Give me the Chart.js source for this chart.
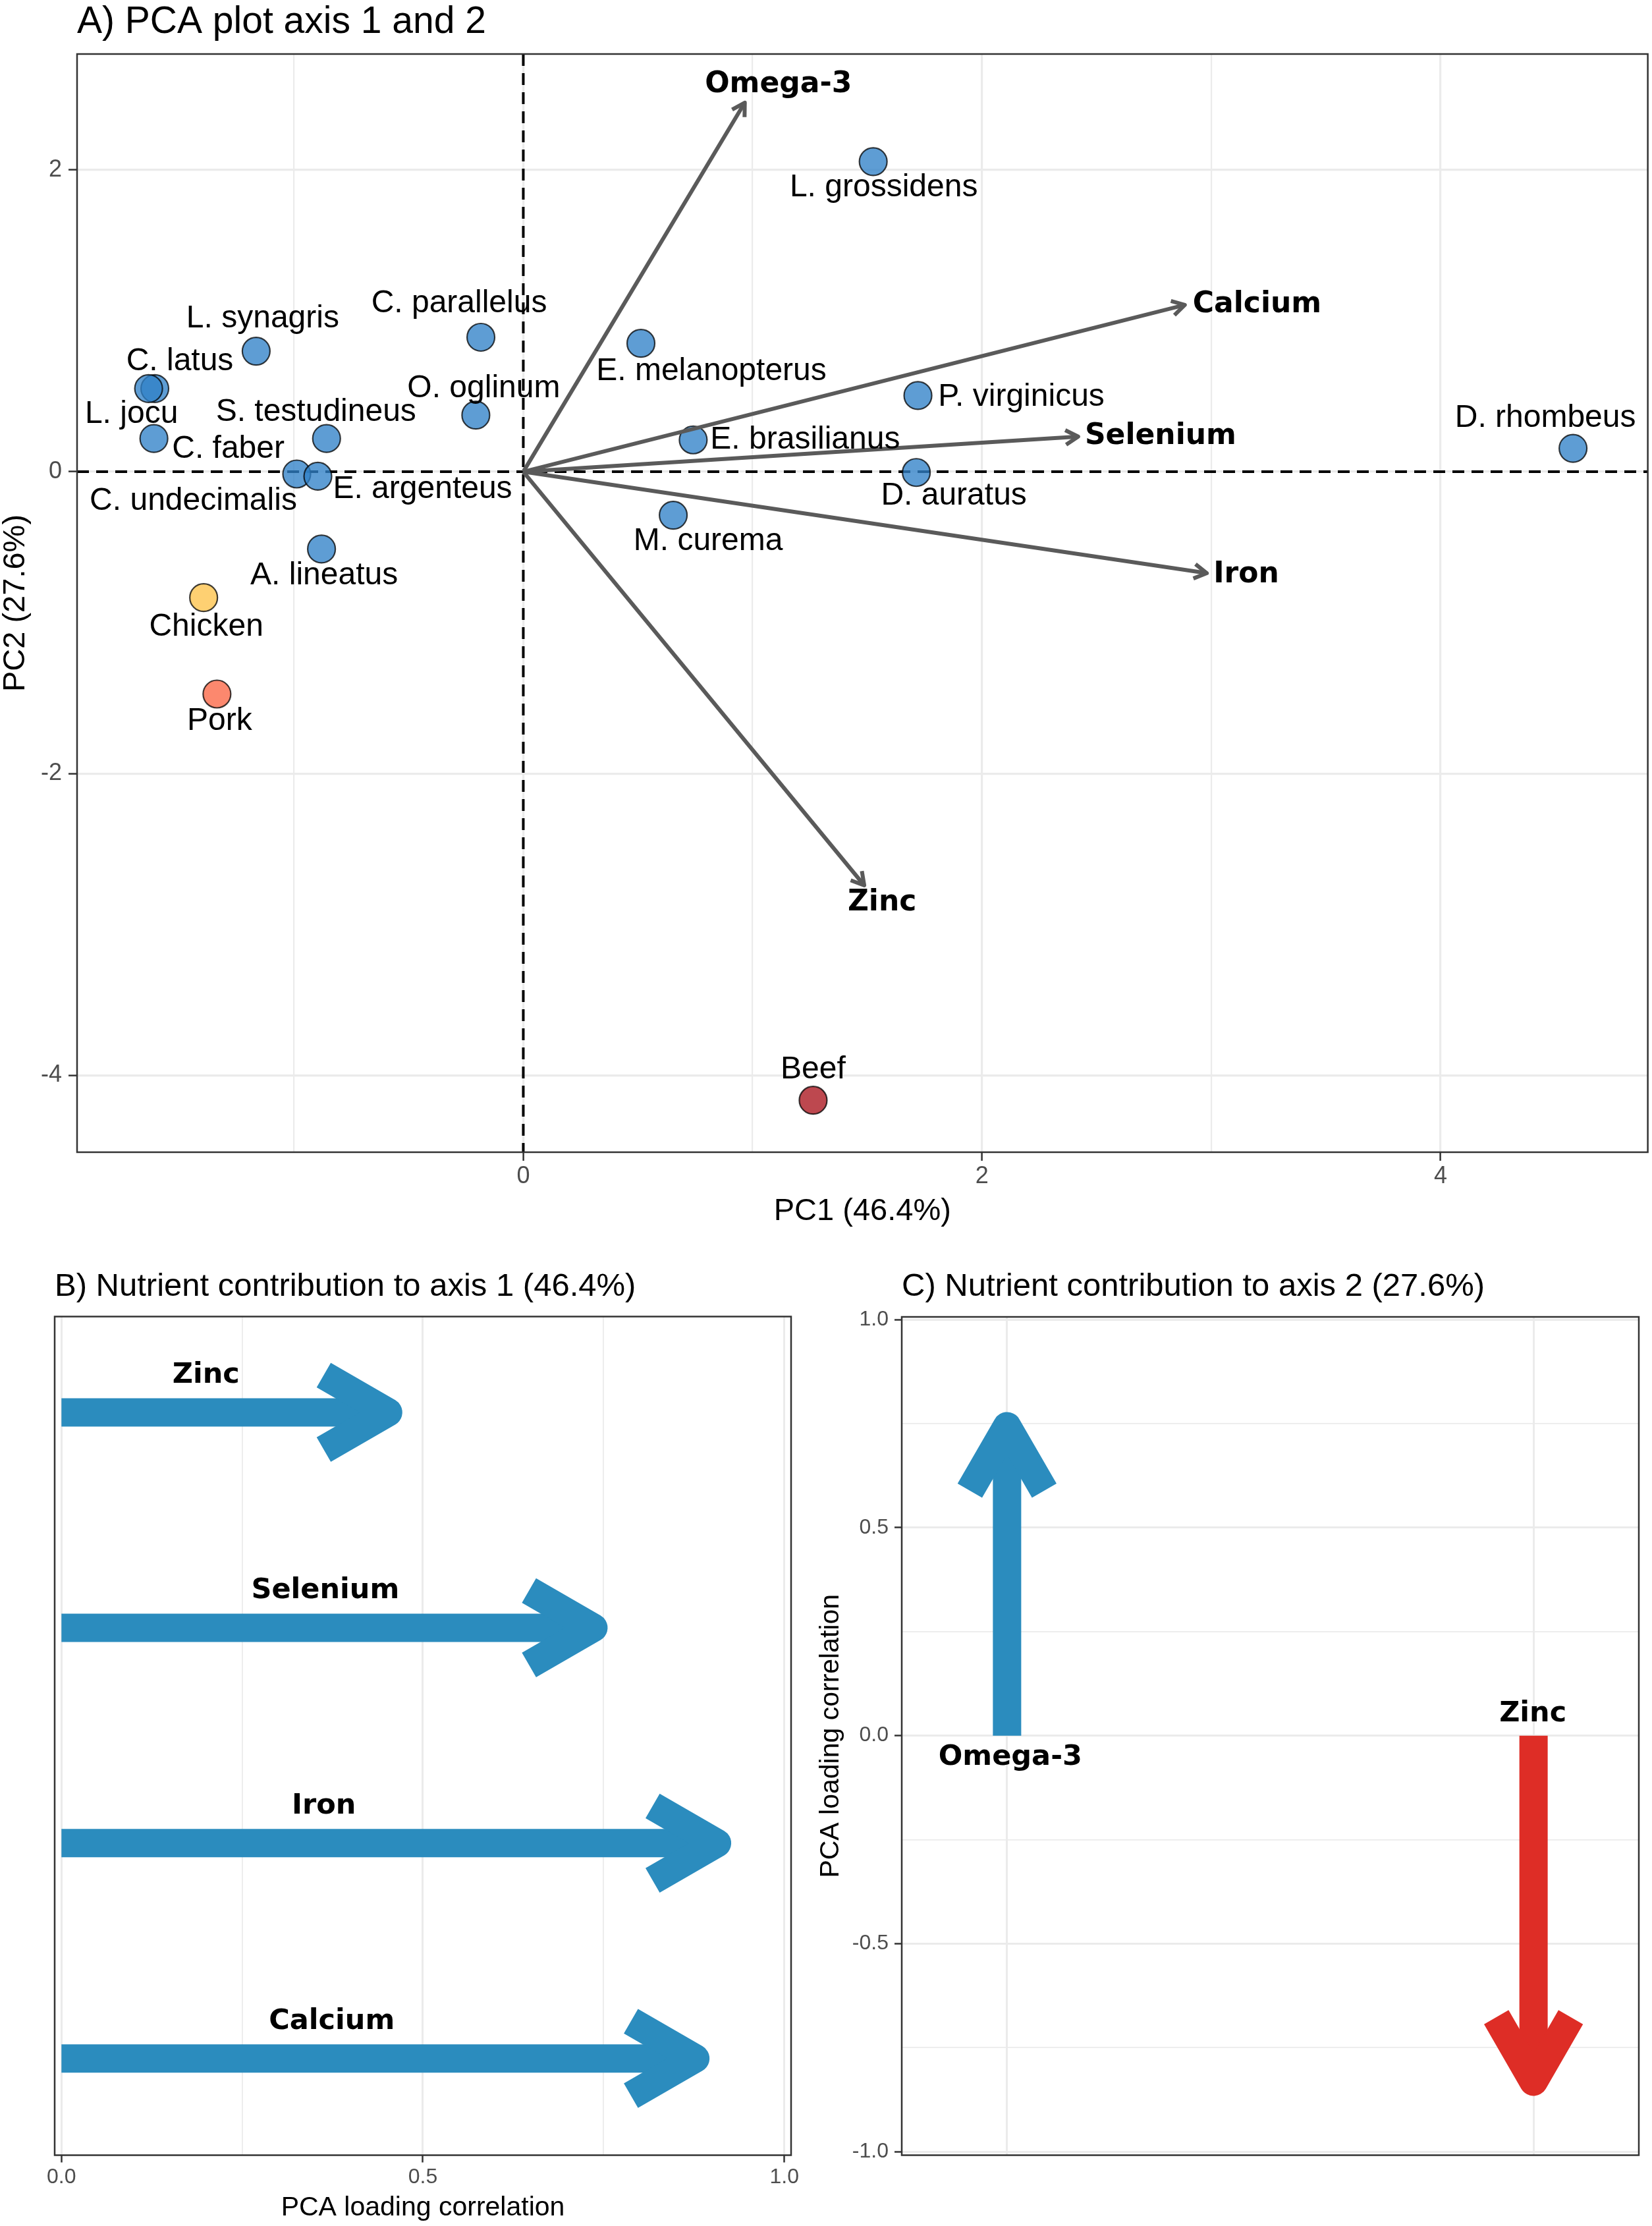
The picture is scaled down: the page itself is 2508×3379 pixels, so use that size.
<!DOCTYPE html>
<html>
<head>
<meta charset="utf-8">
<script src="https://cdn.jsdelivr.net/npm/chart.js@4.4.1/dist/chart.umd.min.js"></script>
<style>
html,body{margin:0;padding:0;background:#ffffff;}
body{width:2508px;height:3379px;position:relative;overflow:hidden;}
canvas{position:absolute;}
</style>
</head>
<body>
<canvas id="pca" width="2508" height="1880" style="left:0px;top:0px;width:2508px;height:1880px"></canvas>
<canvas id="axis1" width="1254" height="1499" style="left:0px;top:1880px;width:1254px;height:1499px"></canvas>
<canvas id="axis2" width="1308" height="1499" style="left:1200px;top:1880px;width:1308px;height:1499px"></canvas>
<script>
// ================= DATA =================
// Panel A: species scores
const speciesNames = ['L. grossidens','C. parallelus','L. synagris','C. latus','L. jocu','C. faber',
  'S. testudineus','O. oglinum','E. melanopterus','E. brasilianus','C. undecimalis','E. argenteus',
  'M. curema','A. lineatus','P. virginicus','D. auratus','D. rhombeus','Chicken','Pork','Beef'];
const speciesPC1 = [1.526,-0.185,-1.165,-1.607,-1.634,-1.611,-0.858,-0.207,0.513,0.741,-0.988,-0.896,
  0.654,-0.880,1.721,1.714,4.578,-1.394,-1.336,1.264];
const speciesPC2 = [2.055,0.891,0.799,0.551,0.551,0.220,0.220,0.375,0.851,0.211,-0.015,-0.030,
  -0.288,-0.512,0.505,-0.005,0.155,-0.834,-1.473,-4.165];
const speciesGroup = ['fish','fish','fish','fish','fish','fish','fish','fish','fish','fish','fish','fish',
  'fish','fish','fish','fish','fish','chicken','pork','beef'];

// Panel A: nutrient loading vectors
const nutrientNames = ['Omega-3','Calcium','Selenium','Iron','Zinc'];
const nutrientPC1 = [0.966, 2.885, 2.420, 2.981, 1.487];
const nutrientPC2 = [2.446, 1.105, 0.233, -0.672, -2.741];

const pcaXTicks = [-1,0,1,2,3,4];
const pcaXTickLabels = [0,2,4];
const pcaYTicks = [-4,-2,0,2];

// Panel B: contribution to axis 1
const axis1Nutrients = ['Zinc','Selenium','Iron','Calcium'];
const axis1Loadings = [0.452, 0.736, 0.907, 0.877];
const loadingTicks = [0,0.25,0.5,0.75,1];

// Panel C: contribution to axis 2
const axis2Nutrients = ['Omega-3','Zinc'];
const axis2Loadings = [0.744, -0.832];
const axis2Ticks = [-1,-0.75,-0.5,-0.25,0,0.25,0.5,0.75,1];

// ================= STYLE =================
const REG = "'Liberation Sans', Arial, Helvetica, sans-serif";
const BOLD = "'DejaVu Sans', Verdana, sans-serif";
Chart.defaults.font.family = REG;

const groupFill = {
  fish: 'rgba(49,130,200,0.78)',
  chicken: 'rgba(254,196,79,0.8)',
  pork: 'rgba(251,106,74,0.8)',
  beef: 'rgba(170,20,30,0.78)'
};
// label offsets (pixels) relative to each point
const speciesLabelOffset = [[16,39],[-33,-51],[10,-49],[38,-41],[-26,39],[113,16],
  [-16,-40],[12,-40],[107,43],[170,0],[-157,41],[159,20],
  [53,40],[4,40],[157,2],[57,36],[-42,-46],[4,45],[4,41],[0,-46]];
const nutrientLabelPlace = [
  {align:'center', dx:51, dy:-27},
  {align:'left', dx:12, dy:0},
  {align:'left', dx:10, dy:0},
  {align:'left', dx:10, dy:3},
  {align:'center', dx:27, dy:27}
];
const axis1LabelX = [0.2, 0.365, 0.363, 0.374];
const axis2Colors = ['#2B8CBE', '#DE2D26'];
const GRID = '#EBEBEB';
const TICKC = '#4D4D4D';
const BORDER = '#333333';

function isMajorHalf(v) { return Math.abs(v * 2 - Math.round(v * 2)) < 1e-9; }

function arrowHead(ctx, x0, y0, x1, y1, len, deg, width, color) {
  const ang = Math.atan2(y1 - y0, x1 - x0);
  const a = deg * Math.PI / 180;
  ctx.save();
  ctx.setLineDash([]);
  ctx.strokeStyle = color;
  ctx.lineWidth = width;
  ctx.lineJoin = 'round';
  ctx.lineCap = 'butt';
  ctx.beginPath();
  ctx.moveTo(x1 - len * Math.cos(ang - a), y1 - len * Math.sin(ang - a));
  ctx.lineTo(x1, y1);
  ctx.lineTo(x1 - len * Math.cos(ang + a), y1 - len * Math.sin(ang + a));
  ctx.stroke();
  ctx.restore();
}
function panelFrame(chart, title, size) {
  const {ctx, chartArea: a} = chart;
  ctx.save();
  ctx.strokeStyle = BORDER;
  ctx.lineWidth = 2.5;
  ctx.setLineDash([]);
  ctx.strokeRect(a.left, a.top, a.right - a.left, a.bottom - a.top);
  ctx.fillStyle = '#000';
  ctx.font = size + 'px ' + REG;
  ctx.textAlign = 'left';
  ctx.textBaseline = 'alphabetic';
  ctx.fillText(title, a.left, a.top - 32);
  ctx.restore();
}
const baseOpts = {
  responsive: false,
  animation: false,
  events: [],
  plugins: { legend: { display: false }, tooltip: { enabled: false }, title: { display: false } }
};

// ================= PANEL A =================
const pcaDatasets = [{
  label: 'species',
  data: speciesNames.map((n, i) => ({x: speciesPC1[i], y: speciesPC2[i]})),
  pointRadius: 21,
  pointBackgroundColor: speciesGroup.map(g => groupFill[g]),
  pointBorderColor: 'rgba(0,0,0,0.75)',
  pointBorderWidth: 2.2,
  showLine: false,
  order: 2
}].concat(nutrientNames.map((n, i) => ({
  label: n,
  data: [{x: 0, y: 0}, {x: nutrientPC1[i], y: nutrientPC2[i]}],
  showLine: true,
  borderColor: '#5A5A5A',
  borderWidth: 6,
  pointRadius: 0,
  order: 1
})));

const pcaPlugin = {
  id: 'pcaDecor',
  beforeDatasetsDraw(chart) {
    const {ctx, chartArea: a, scales: {x, y}} = chart;
    const x0 = x.getPixelForValue(0), y0 = y.getPixelForValue(0);
    ctx.save();
    ctx.strokeStyle = '#000';
    ctx.lineWidth = 4;
    ctx.setLineDash([18, 11]);
    ctx.beginPath(); ctx.moveTo(a.left, y0); ctx.lineTo(a.right, y0); ctx.stroke();
    ctx.beginPath(); ctx.moveTo(x0, a.top); ctx.lineTo(x0, a.bottom); ctx.stroke();
    ctx.restore();
  },
  afterDatasetsDraw(chart) {
    const {ctx} = chart;
    nutrientNames.forEach((n, i) => {
      const pts = chart.getDatasetMeta(i + 1).data;
      arrowHead(ctx, pts[0].x, pts[0].y, pts[1].x, pts[1].y, 22, 30, 6, '#5A5A5A');
    });
    const sp = chart.getDatasetMeta(0).data;
    ctx.save();
    ctx.fillStyle = '#000';
    ctx.font = '48px ' + REG;
    ctx.textAlign = 'center';
    ctx.textBaseline = 'middle';
    speciesNames.forEach((n, i) => {
      ctx.fillText(n, sp[i].x + speciesLabelOffset[i][0], sp[i].y + speciesLabelOffset[i][1]);
    });
    ctx.font = 'bold 44px ' + BOLD;
    nutrientNames.forEach((n, i) => {
      const tip = chart.getDatasetMeta(i + 1).data[1];
      const p = nutrientLabelPlace[i];
      ctx.textAlign = p.align;
      ctx.fillText(n, tip.x + p.dx, tip.y + p.dy);
    });
    ctx.restore();
  },
  afterDraw(chart) { panelFrame(chart, 'A) PCA plot axis 1 and 2', 57); }
};

new Chart(document.getElementById('pca'), {
  type: 'scatter',
  data: { datasets: pcaDatasets },
  options: Object.assign({}, baseOpts, {
    layout: { autoPadding: false, padding: { left: 0, top: 82, right: 6.4, bottom: 0 } },
    scales: {
      x: {
        type: 'linear', min: -1.946, max: 4.904,
        afterBuildTicks: s => { s.ticks = pcaXTicks.map(v => ({value: v})); },
        afterFit: s => { s.height = 131; },
        ticks: { autoSkip: false, maxRotation: 0, padding: 2, color: TICKC, font: { size: 36 },
          callback: v => pcaXTickLabels.includes(v) ? String(v) : '' },
        grid: { color: GRID,
          lineWidth: c => (c.tick && pcaXTickLabels.includes(c.tick.value)) ? 3.2 : 2.2,
          tickLength: 13, tickWidth: 2.5,
          tickColor: c => (c.tick && pcaXTickLabels.includes(c.tick.value)) ? BORDER : 'rgba(0,0,0,0)' },
        border: { display: false },
        title: { display: true, text: 'PC1 (46.4%)', color: '#000', font: { size: 47, lineHeight: 1 },
          padding: { top: 0, bottom: 17.5 } }
      },
      y: {
        type: 'linear', min: -4.509, max: 2.768,
        afterBuildTicks: s => { s.ticks = pcaYTicks.map(v => ({value: v})); },
        afterFit: s => { s.width = 117; },
        ticks: { autoSkip: false, padding: 10, color: TICKC, font: { size: 36 }, callback: v => String(v) },
        grid: { color: GRID, lineWidth: 3.2, tickLength: 13, tickWidth: 2.5, tickColor: BORDER },
        border: { display: false },
        title: { display: true, text: 'PC2 (27.6%)', color: '#000', font: { size: 47, lineHeight: 1 },
          padding: { top: 0.5, bottom: 0 } }
      }
    }
  }),
  plugins: [pcaPlugin]
});

// ================= PANEL B =================
const axis1Plugin = {
  id: 'axis1Decor',
  afterDatasetsDraw(chart) {
    const {ctx, scales: {x}} = chart;
    axis1Nutrients.forEach((n, i) => {
      const pts = chart.getDatasetMeta(i).data;
      arrowHead(ctx, pts[0].x, pts[0].y, pts[1].x, pts[1].y, 113, 30, 43, '#2B8CBE');
    });
    ctx.save();
    ctx.fillStyle = '#000';
    ctx.font = 'bold 43px ' + BOLD;
    ctx.textAlign = 'center';
    ctx.textBaseline = 'middle';
    axis1Nutrients.forEach((n, i) => {
      const pts = chart.getDatasetMeta(i).data;
      ctx.fillText(n, x.getPixelForValue(axis1LabelX[i]), pts[0].y - 56);
    });
    ctx.restore();
  },
  afterDraw(chart) { panelFrame(chart, 'B) Nutrient contribution to axis 1 (46.4%)', 49); }
};

new Chart(document.getElementById('axis1'), {
  type: 'scatter',
  data: { datasets: axis1Nutrients.map((n, i) => ({
    label: n,
    data: [{x: 0, y: i + 1}, {x: axis1Loadings[i], y: i + 1}],
    showLine: true,
    borderColor: '#2B8CBE',
    borderWidth: 43,
    borderCapStyle: 'butt',
    pointRadius: 0
  })) },
  options: Object.assign({}, baseOpts, {
    layout: { autoPadding: false, padding: { left: 0, top: 118.5, right: 53, bottom: 0 } },
    scales: {
      x: {
        type: 'linear', min: -0.0094, max: 1.0094,
        afterBuildTicks: s => { s.ticks = loadingTicks.map(v => ({value: v})); },
        afterFit: s => { s.height = 107.5; },
        ticks: { autoSkip: false, maxRotation: 0, padding: 3, color: TICKC, font: { size: 32 },
          callback: v => isMajorHalf(v) ? v.toFixed(1) : '' },
        grid: { color: GRID,
          lineWidth: c => (c.tick && isMajorHalf(c.tick.value)) ? 3 : 1.8,
          tickLength: 11, tickWidth: 2.5,
          tickColor: c => (c.tick && isMajorHalf(c.tick.value)) ? BORDER : 'rgba(0,0,0,0)' },
        border: { display: false },
        title: { display: true, text: 'PCA loading correlation', color: '#000', font: { size: 41, lineHeight: 1 },
          padding: { top: 0, bottom: 6.5 } }
      },
      y: {
        type: 'linear', reverse: true, min: 0.555, max: 4.449,
        afterFit: s => { s.width = 83; },
        ticks: { display: false },
        grid: { display: false },
        border: { display: false }
      }
    }
  }),
  plugins: [axis1Plugin]
});

// ================= PANEL C =================
const axis2Plugin = {
  id: 'axis2Decor',
  afterDatasetsDraw(chart) {
    const {ctx} = chart;
    axis2Nutrients.forEach((n, i) => {
      const pts = chart.getDatasetMeta(i).data;
      arrowHead(ctx, pts[0].x, pts[0].y, pts[1].x, pts[1].y, 113, 30, 43, axis2Colors[i]);
    });
    ctx.save();
    ctx.fillStyle = '#000';
    ctx.font = 'bold 43px ' + BOLD;
    ctx.textAlign = 'center';
    ctx.textBaseline = 'middle';
    axis2Nutrients.forEach((n, i) => {
      const p0 = chart.getDatasetMeta(i).data[0];
      const dir = axis2Loadings[i] >= 0 ? 1 : -1;
      ctx.fillText(n, p0.x + (dir > 0 ? 5 : -1), p0.y + dir * 33);
    });
    ctx.restore();
  },
  afterDraw(chart) { panelFrame(chart, 'C) Nutrient contribution to axis 2 (27.6%)', 49); }
};

new Chart(document.getElementById('axis2'), {
  type: 'scatter',
  data: { datasets: axis2Nutrients.map((n, i) => ({
    label: n,
    data: [{x: i + 1, y: 0}, {x: i + 1, y: axis2Loadings[i]}],
    showLine: true,
    borderColor: axis2Colors[i],
    borderWidth: 43,
    borderCapStyle: 'butt',
    pointRadius: 0
  })) },
  options: Object.assign({}, baseOpts, {
    layout: { autoPadding: false, padding: { left: 0, top: 119, right: 20, bottom: 0 } },
    scales: {
      x: {
        type: 'linear', min: 0.8, max: 2.2,
        afterBuildTicks: s => { s.ticks = axis2Nutrients.map((n, i) => ({value: i + 1})); },
        afterFit: s => { s.height = 107.5; },
        ticks: { display: false },
        grid: { color: GRID, lineWidth: 3, drawTicks: false },
        border: { display: false }
      },
      y: {
        type: 'linear', min: -1.0087, max: 1.0068,
        afterBuildTicks: s => { s.ticks = axis2Ticks.map(v => ({value: v})); },
        afterFit: s => { s.width = 169; },
        ticks: { autoSkip: false, padding: 9, color: TICKC, font: { size: 32 },
          callback: v => isMajorHalf(v) ? v.toFixed(1) : '' },
        grid: { color: GRID,
          lineWidth: c => (c.tick && isMajorHalf(c.tick.value)) ? 3 : 1.8,
          tickLength: 11, tickWidth: 2.5,
          tickColor: c => (c.tick && isMajorHalf(c.tick.value)) ? BORDER : 'rgba(0,0,0,0)' },
        border: { display: false },
        title: { display: true, text: 'PCA loading correlation', color: '#000', font: { size: 41, lineHeight: 1 },
          padding: { top: 41.5, bottom: 0 } }
      }
    }
  }),
  plugins: [axis2Plugin]
});
</script>
</body>
</html>
